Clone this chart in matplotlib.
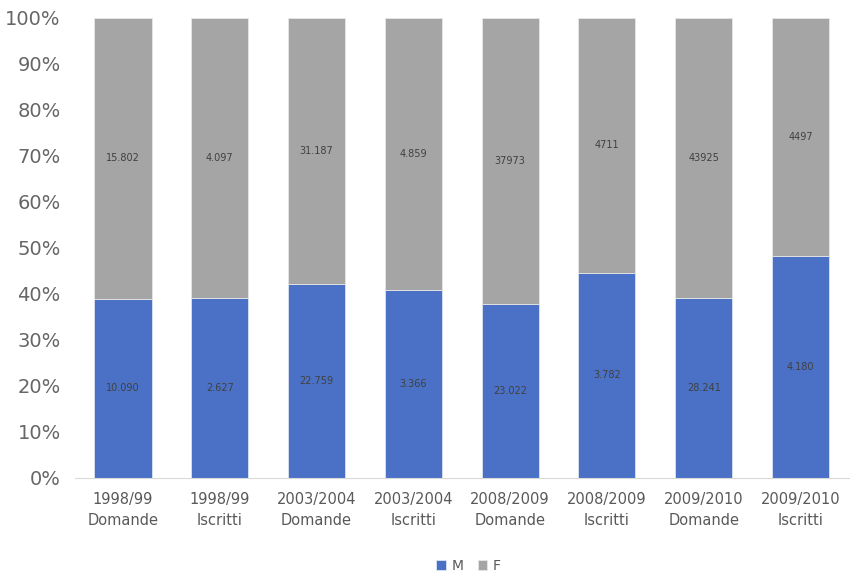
import numpy as np
import matplotlib.pyplot as plt
from matplotlib.ticker import PercentFormatter

categorie = ['1998/99\nDomande', '1998/99\nIscritti', '2003/2004\nDomande', '2003/2004\nIscritti',
             '2008/2009\nDomande', '2008/2009\nIscritti', '2009/2010\nDomande', '2009/2010\nIscritti']
maschi = [10090, 2627, 22759, 3366, 23022, 3782, 28241, 4180]
femmine = [15802, 4097, 31187, 4859, 37973, 4711, 43925, 4497]
etichette_m = ['10.090', '2.627', '22.759', '3.366', '23.022', '3.782', '28.241', '4.180']
etichette_f = ['15.802', '4.097', '31.187', '4.859', '37973', '4711', '43925', '4497']

m = np.array(maschi, dtype=float)
f = np.array(femmine, dtype=float)
tot = m + f
pm = m / tot * 100
pf = f / tot * 100

fig = plt.figure(figsize=(8.68, 5.77), dpi=100)
ax = fig.add_axes([0.086, 0.172, 0.892, 0.797])

x = np.arange(len(categorie))
bm = ax.bar(x, pm, width=0.59, color='#4a71c6', edgecolor='#dde4f2', linewidth=0.6, label='M')
bf = ax.bar(x, pf, width=0.59, bottom=pm, color='#A5A5A5', edgecolor='#e6e6e6', linewidth=0.6, label='F')

for i in range(len(x)):
    ax.text(x[i], pm[i] / 2, etichette_m[i], ha='center', va='center', fontsize=7, color='#404040')
    ax.text(x[i], pm[i] + pf[i] / 2, etichette_f[i], ha='center', va='center', fontsize=7, color='#404040')

ax.set_ylim(0, 100)
ax.set_xlim(-0.5, len(x) - 0.5)
ax.yaxis.set_major_locator(plt.MultipleLocator(10))
ax.yaxis.set_major_formatter(PercentFormatter(decimals=0))
ax.set_xticks(x)
ax.set_xticklabels(categorie, fontsize=10.5, color='#595959', linespacing=1.5,
                   family=['Liberation Sans Narrow', 'DejaVu Sans'])
ax.tick_params(axis='y', labelsize=14, colors='#666666', length=0, pad=10)
ax.tick_params(axis='x', length=0, pad=10)

for s in ['top', 'right', 'left']:
    ax.spines[s].set_visible(False)
ax.spines['bottom'].set_color('#d9d9d9')

fig.legend(handles=[bm, bf], loc='lower center', ncol=2, frameon=False, fontsize=10,
           bbox_to_anchor=(0.54, -0.015), handlelength=0.7, handleheight=0.7, columnspacing=1.0,
           handletextpad=0.4, labelcolor='#595959')

plt.savefig('out.png', dpi=100)
